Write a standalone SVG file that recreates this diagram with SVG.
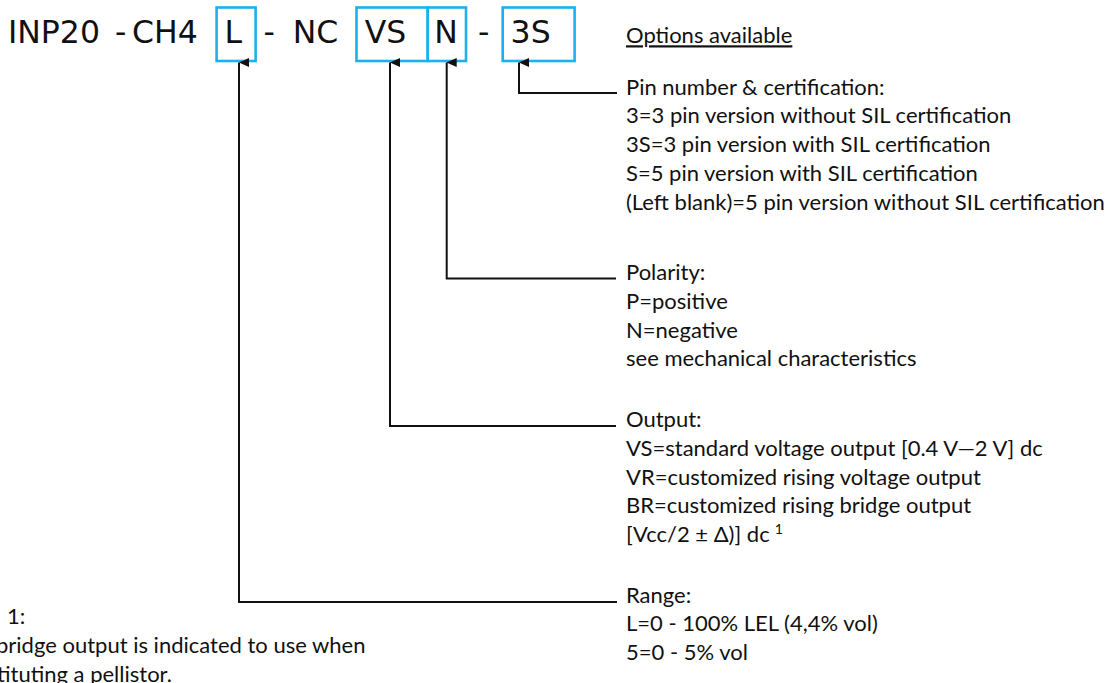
<svg xmlns="http://www.w3.org/2000/svg" width="1111" height="683" viewBox="0 0 1111 683">
<defs>
<style>
.code{font-family:"DejaVu Sans",Verdana,sans-serif;font-size:31.5px;fill:#111}
.box{fill:none;stroke:#1cb1ec;stroke-width:2.6}
.t{font-family:Lato,"Noto Sans",sans-serif;font-size:22px;fill:#111}
.conn{fill:none;stroke:#111;stroke-width:2}
</style>
<marker id="arr" viewBox="0 0 9 10" refX="4.5" refY="0" markerWidth="9" markerHeight="10" markerUnits="userSpaceOnUse" orient="auto-start-reverse">
<path d="M0,10 L4.5,0 L9,10 Z" fill="#111"/>
</marker>
</defs>
<rect width="1111" height="683" fill="#fff"/>
<g id="code">
<text class="code" x="8" y="43.3">INP20</text>
<text class="code" x="115" y="43.3">-</text>
<text class="code" x="132" y="43.3">CH4</text>
<text class="code" x="263.5" y="43.3">-</text>
<text class="code" x="292.7" y="43.3">NC</text>
<text class="code" x="478" y="43.3">-</text>
</g>
<g id="box-L">
<rect class="box" x="216.6" y="7.5" width="39" height="53.5"/>
<text class="code" x="224.5" y="43.3">L</text>
</g>
<g id="box-VS">
<rect class="box" x="356.5" y="7.5" width="71.2" height="53.5"/>
<text class="code" x="364.8" y="43.3">VS</text>
</g>
<g id="box-N">
<rect class="box" x="427.7" y="7.5" width="38.3" height="53.5"/>
<text class="code" x="434.3" y="43.3">N</text>
</g>
<g id="box-3S">
<rect class="box" x="502.7" y="7.5" width="71.9" height="53.5"/>
<text class="code" x="510.6" y="43.3">3S</text>
</g>
<g id="connectors">
<path class="conn" d="M617,93 H519 V62.5" marker-end="url(#arr)"/>
<path class="conn" d="M616,278.5 H446.7 V62.5" marker-end="url(#arr)"/>
<path class="conn" d="M616,426 H390 V62.5" marker-end="url(#arr)"/>
<path class="conn" d="M617,602 H239 V62.5" marker-end="url(#arr)"/>
</g>
<g id="options-title">
<text class="t" x="626" y="43.3" text-decoration="underline">Options available</text>
</g>
<g id="pin">
<text class="t" x="626" y="94.5">Pin number &amp; certification:</text>
<text class="t" x="626" y="123.3">3=3 pin version without SIL certification</text>
<text class="t" x="626" y="152.1">3S=3 pin version with SIL certification</text>
<text class="t" x="626" y="180.9">S=5 pin version with SIL certification</text>
<text class="t" x="626" y="209.7">(Left blank)=5 pin version without SIL certification</text>
</g>
<g id="polarity">
<text class="t" x="626" y="280">Polarity:</text>
<text class="t" x="626" y="308.8">P=positive</text>
<text class="t" x="626" y="337.6">N=negative</text>
<text class="t" x="626" y="366.4">see mechanical characteristics</text>
</g>
<g id="output">
<text class="t" x="626" y="427">Output:</text>
<text class="t" x="626" y="455.8">VS=standard voltage output [0.4 V—2 V] dc</text>
<text class="t" x="626" y="484.6">VR=customized rising voltage output</text>
<text class="t" x="626" y="513.4">BR=customized rising bridge output</text>
<text class="t" x="626" y="542.2">[Vcc/2 ± Δ)] dc<tspan dx="5" dy="-8" font-size="14">1</tspan></text>
</g>
<g id="range">
<text class="t" x="626" y="602.5">Range:</text>
<text class="t" x="626" y="631.3">L=0 - 100% LEL (4,4% vol)</text>
<text class="t" x="626" y="660.1">5=0 - 5% vol</text>
</g>
<g id="note">
<text class="t" x="7" y="623.5">1:</text>
<text class="t" x="-4" y="653">bridge output is indicated to use when</text>
<text class="t" x="-3" y="681.5">tituting a pellistor.</text>
</g>
</svg>
